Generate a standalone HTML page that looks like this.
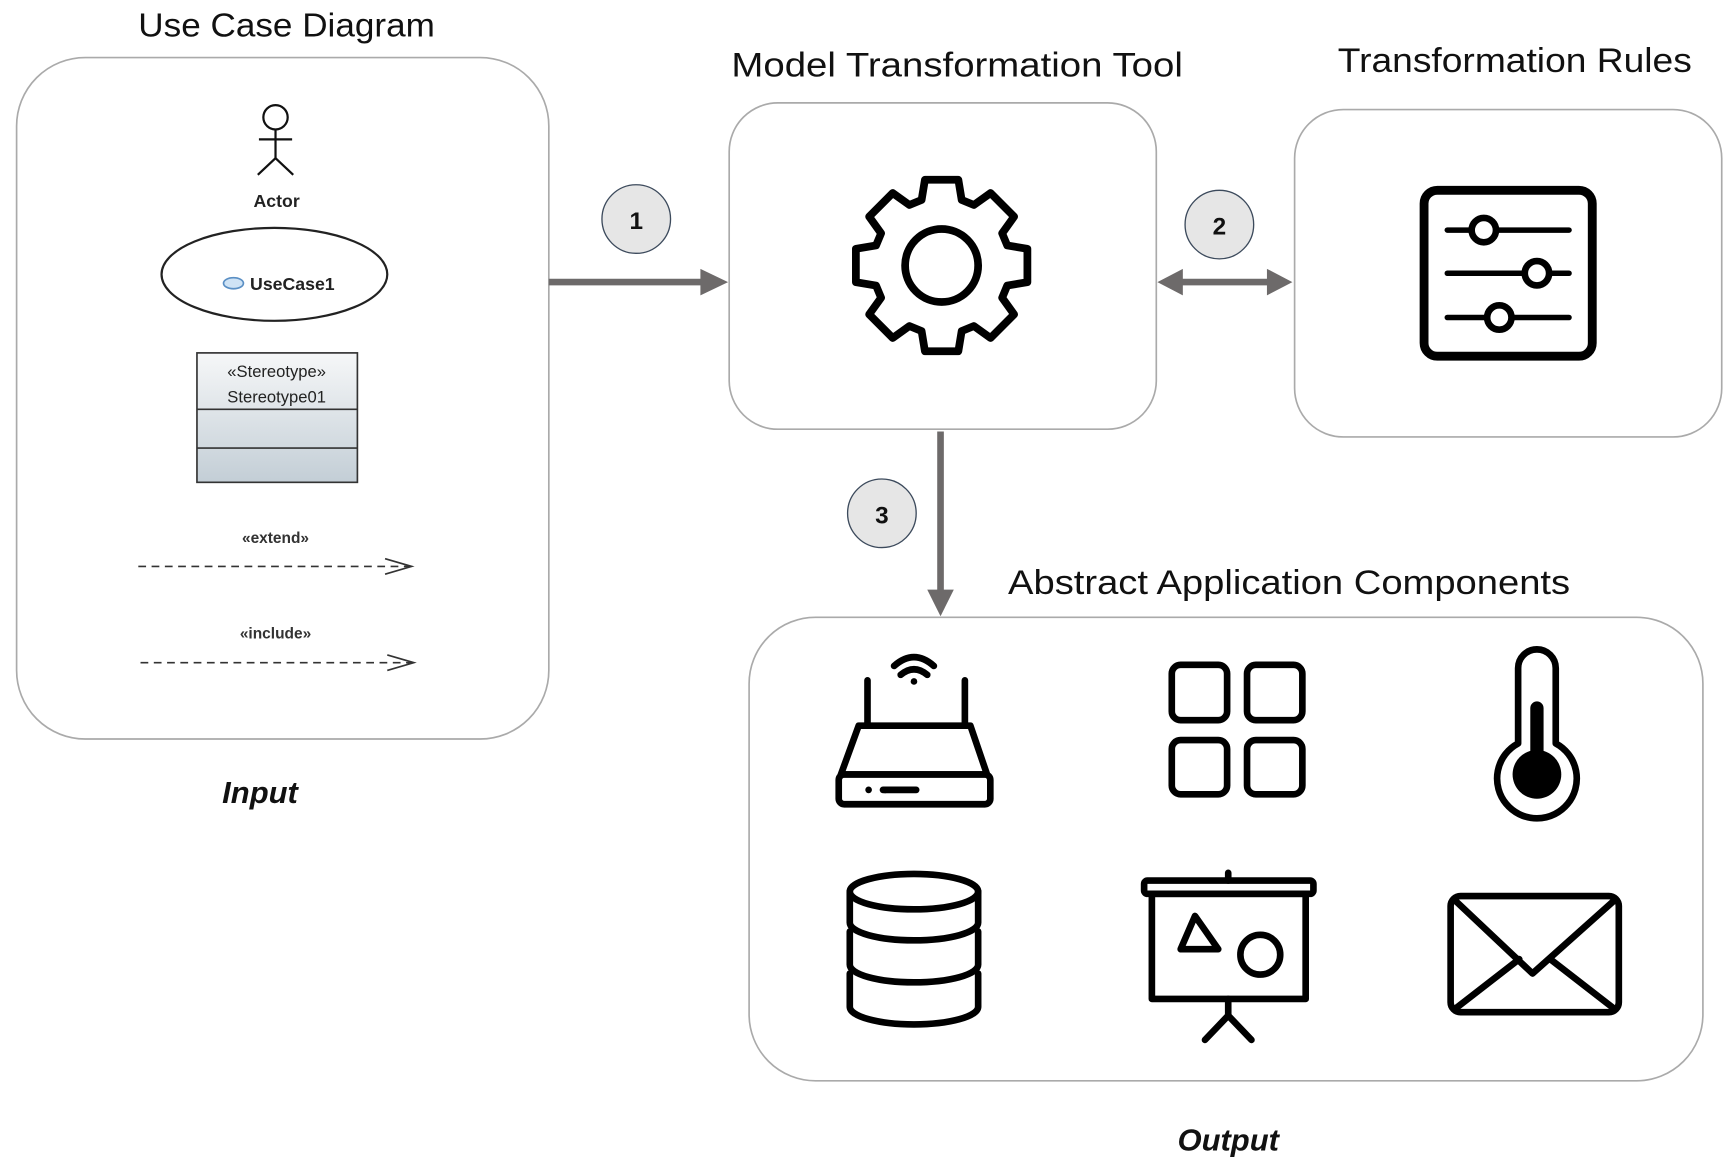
<!DOCTYPE html>
<html><head><meta charset="utf-8"><style>
html,body{margin:0;padding:0;background:#fff;}
svg{display:block;}
text{font-family:"Liberation Sans",sans-serif;}
</style></head><body>
<svg width="1735" height="1166" viewBox="0 0 1568 1054" preserveAspectRatio="none" xmlns="http://www.w3.org/2000/svg">
<defs>
<linearGradient id="sg" x1="0" y1="0" x2="0" y2="1"><stop offset="0" stop-color="#f6f7f8"/><stop offset="1" stop-color="#c3ced6"/></linearGradient>
</defs>
<!-- Left box -->
<text x="125" y="33" font-size="30" textLength="268" lengthAdjust="spacingAndGlyphs" fill="#111">Use Case Diagram</text>
<rect x="15" y="52" width="481" height="616" rx="62" fill="#fff" stroke="#aaa" stroke-width="1.5"/>
<g stroke="#111" stroke-width="2" fill="none">
<circle cx="249" cy="106" r="11"/>
<line x1="249" y1="117" x2="249" y2="143"/>
<line x1="234" y1="126" x2="264" y2="126"/>
<polyline points="233,158 249,143 265,158"/>
</g>
<text x="250" y="187" font-size="16" font-weight="bold" text-anchor="middle" fill="#222">Actor</text>
<ellipse cx="248" cy="248" rx="102" ry="42" fill="#fff" stroke="#222" stroke-width="2"/>
<ellipse cx="211" cy="256" rx="9" ry="5" fill="#cfe3f5" stroke="#5a8fc4" stroke-width="1.5"/>
<text x="226" y="262" font-size="16" font-weight="bold" fill="#222">UseCase1</text>
<rect x="178" y="319" width="145" height="117" fill="url(#sg)" stroke="#333" stroke-width="1.5"/>
<line x1="178" y1="370" x2="323" y2="370" stroke="#333" stroke-width="1.5"/>
<line x1="178" y1="405" x2="323" y2="405" stroke="#333" stroke-width="1.5"/>
<text x="250" y="341" font-size="15" text-anchor="middle" fill="#222">«Stereotype»</text>
<text x="250" y="364" font-size="15" text-anchor="middle" fill="#222">Stereotype01</text>
<text x="249" y="491" font-size="14" font-weight="bold" text-anchor="middle" fill="#333">«extend»</text>
<line x1="125" y1="512" x2="370" y2="512" stroke="#333" stroke-width="1.5" stroke-dasharray="7,5"/>
<polyline points="348,505 372,512 348,519" fill="none" stroke="#333" stroke-width="1.5"/>
<text x="249" y="577" font-size="14" font-weight="bold" text-anchor="middle" fill="#333">«include»</text>
<line x1="127" y1="599" x2="372" y2="599" stroke="#333" stroke-width="1.5" stroke-dasharray="7,5"/>
<polyline points="350,592 374,599 350,606" fill="none" stroke="#333" stroke-width="1.5"/>
<text x="235" y="726" font-size="28" font-weight="bold" font-style="italic" text-anchor="middle" fill="#111">Input</text>

<!-- Arrow 1 -->
<line x1="496" y1="255" x2="635" y2="255" stroke="#6d6a6a" stroke-width="6"/>
<polygon points="633,243 658,255 633,267" fill="#6d6a6a"/>
<circle cx="575" cy="198" r="31" fill="#e6e6e6" stroke="#3c4a5c" stroke-width="1.2"/>
<text x="575" y="207" font-size="22" font-weight="bold" text-anchor="middle" fill="#111">1</text>

<!-- Middle box -->
<text x="661" y="69" font-size="31" textLength="408" lengthAdjust="spacingAndGlyphs" fill="#111">Model Transformation Tool</text>
<rect x="659" y="93" width="386" height="295" rx="44" fill="#fff" stroke="#aaa" stroke-width="1.5"/>
<g transform="translate(851,240)">
<polygon fill="none" stroke="#000" stroke-width="7" stroke-linejoin="round" points="59.3,-18.1 77.5,-15.1 77.5,15.1 59.3,18.1 54.7,29.1 65.5,44.2 44.2,65.5 29.1,54.7 18.1,59.3 15.1,77.5 -15.1,77.5 -18.1,59.3 -29.1,54.7 -44.2,65.5 -65.5,44.2 -54.7,29.1 -59.3,18.1 -77.5,15.1 -77.5,-15.1 -59.3,-18.1 -54.7,-29.1 -65.5,-44.2 -44.2,-65.5 -29.1,-54.7 -18.1,-59.3 -15.1,-77.5 15.1,-77.5 18.1,-59.3 29.1,-54.7 44.2,-65.5 65.5,-44.2 54.7,-29.1"/>
<circle r="33" fill="none" stroke="#000" stroke-width="7"/>
</g>

<!-- Arrow 2 -->
<line x1="1065" y1="255" x2="1150" y2="255" stroke="#6d6a6a" stroke-width="6"/>
<polygon points="1069,243 1046,255 1069,267" fill="#6d6a6a"/>
<polygon points="1145,243 1168,255 1145,267" fill="#6d6a6a"/>
<circle cx="1102" cy="203" r="31" fill="#e6e6e6" stroke="#3c4a5c" stroke-width="1.2"/>
<text x="1102" y="212" font-size="22" font-weight="bold" text-anchor="middle" fill="#111">2</text>

<!-- Right box -->
<text x="1209" y="65" font-size="31" textLength="320" lengthAdjust="spacingAndGlyphs" fill="#111">Transformation Rules</text>
<rect x="1170" y="99" width="386" height="296" rx="44" fill="#fff" stroke="#aaa" stroke-width="1.5"/>
<rect x="1287" y="172" width="152" height="150" rx="12" fill="none" stroke="#000" stroke-width="8"/>
<g stroke="#000" stroke-width="5" stroke-linecap="round">
<line x1="1308" y1="208" x2="1418" y2="208"/>
<line x1="1308" y1="247" x2="1418" y2="247"/>
<line x1="1308" y1="287" x2="1418" y2="287"/>
</g>
<g fill="#fff" stroke="#000" stroke-width="6">
<circle cx="1341" cy="208" r="11"/>
<circle cx="1389" cy="247" r="11"/>
<circle cx="1355" cy="287" r="11"/>
</g>

<!-- Arrow 3 -->
<line x1="850" y1="390" x2="850" y2="535" stroke="#6d6a6a" stroke-width="6"/>
<polygon points="838,533 850,557 862,533" fill="#6d6a6a"/>
<circle cx="797" cy="464" r="31" fill="#e6e6e6" stroke="#3c4a5c" stroke-width="1.2"/>
<text x="797" y="473" font-size="22" font-weight="bold" text-anchor="middle" fill="#111">3</text>

<!-- Bottom box -->
<text x="911" y="537" font-size="31" textLength="508" lengthAdjust="spacingAndGlyphs" fill="#111">Abstract Application Components</text>
<rect x="677" y="558" width="862" height="419" rx="60" fill="#fff" stroke="#aaa" stroke-width="1.5"/>
<g fill="none" stroke="#000" stroke-width="6" stroke-linecap="round" stroke-linejoin="round">
<!-- router -->
<line x1="784" y1="615" x2="784" y2="656"/>
<line x1="872" y1="615" x2="872" y2="656"/>
<path d="M776,656 H877 L892,700 H760 Z"/>
<rect x="758" y="700" width="137" height="27" rx="5"/>
<path d="M814,610 Q826,600 838,610"/>
<path d="M808,602 Q826,586 844,602"/>
<!-- grid -->
<rect x="1059" y="601" width="50" height="50" rx="8"/>
<rect x="1127" y="601" width="50" height="50" rx="8"/>
<rect x="1059" y="669" width="50" height="49" rx="8"/>
<rect x="1127" y="669" width="50" height="49" rx="8"/>
<!-- thermometer -->
<path d="M1372,672 V604 A17,17 0 0 1 1406,604 V672 A36,36 0 1 1 1372,672 Z"/>
<!-- database -->
<ellipse cx="826" cy="806" rx="58" ry="16"/>
<path d="M768,806 V834 A58,16 0 0 0 884,834 V806"/>
<path d="M768,842 V872 A58,16 0 0 0 884,872 V842"/>
<path d="M768,880 V910 A58,16 0 0 0 884,910 V880"/>
<!-- presentation board -->
<rect x="1034" y="796" width="153" height="12" rx="3"/>
<rect x="1041" y="808" width="139" height="95"/>
<line x1="1110" y1="903" x2="1110" y2="918"/>
<polyline points="1089,940 1110,918 1131,940"/>
<line x1="1110" y1="789" x2="1110" y2="796"/>
<polygon points="1080,828 1067,858 1101,858"/>
<circle cx="1139" cy="863" r="18"/>
<!-- mail -->
<rect x="1311" y="810" width="152" height="105" rx="9"/>
<polyline points="1314,813 1385,880 1460,813"/>
<line x1="1315" y1="912" x2="1373" y2="867"/>
<line x1="1459" y1="912" x2="1401" y2="867"/>
</g>
<path d="M1383,697 V640 A6,6 0 0 1 1395,640 V697 Z" fill="#000"/>
<circle cx="1389" cy="700" r="22" fill="#000"/>
<circle cx="800" cy="714" r="3" fill="#000"/><circle cx="785" cy="714" r="3" fill="#000"/>
<line x1="798" y1="714" x2="828" y2="714" stroke="#000" stroke-width="6" stroke-linecap="round"/>
<circle cx="826" cy="616" r="3" fill="#000"/>
<text x="1110" y="1040" font-size="28" font-weight="bold" font-style="italic" text-anchor="middle" fill="#111">Output</text>
</svg>
</body></html>
